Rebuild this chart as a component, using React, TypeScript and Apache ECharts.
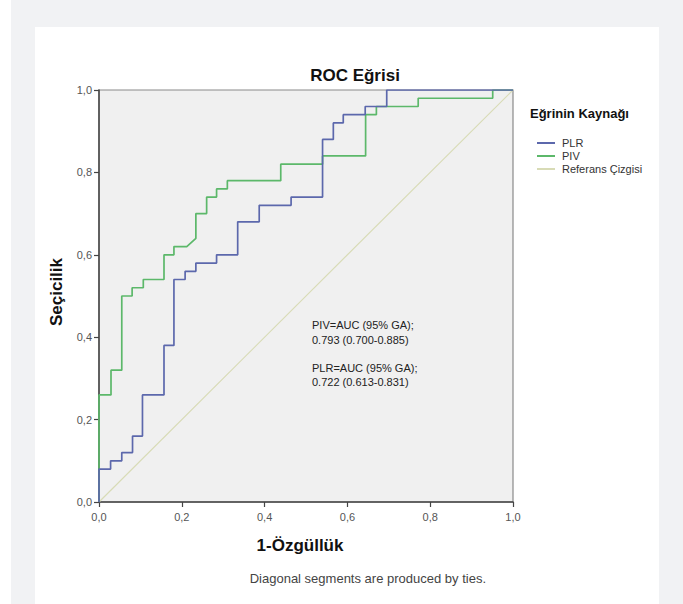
import React, { useEffect, useRef } from "react";
import * as echarts from "echarts";

// ROC step paths (1 - specificity, sensitivity)
const plrFpr = [0, 0, 0.028, 0.028, 0.055, 0.055, 0.081, 0.081, 0.105, 0.105, 0.157, 0.157, 0.181, 0.181, 0.208, 0.208, 0.234, 0.234, 0.284, 0.284, 0.335, 0.335, 0.387, 0.387, 0.464, 0.464, 0.54, 0.54, 0.566, 0.566, 0.59, 0.59, 0.643, 0.643, 0.695, 0.695, 1];
const plrTpr = [0, 0.08, 0.08, 0.1, 0.1, 0.12, 0.12, 0.16, 0.16, 0.26, 0.26, 0.38, 0.38, 0.54, 0.54, 0.56, 0.56, 0.58, 0.58, 0.6, 0.6, 0.68, 0.68, 0.72, 0.72, 0.74, 0.74, 0.88, 0.88, 0.92, 0.92, 0.94, 0.94, 0.96, 0.96, 1, 1];

const pivFpr = [0, 0, 0.029, 0.029, 0.055, 0.055, 0.08, 0.08, 0.107, 0.107, 0.157, 0.157, 0.181, 0.181, 0.212, 0.234, 0.234, 0.26, 0.26, 0.284, 0.284, 0.31, 0.31, 0.439, 0.439, 0.54, 0.54, 0.644, 0.644, 0.67, 0.67, 0.771, 0.771, 0.951, 0.951, 1];
const pivTpr = [0, 0.26, 0.26, 0.32, 0.32, 0.5, 0.5, 0.52, 0.52, 0.54, 0.54, 0.6, 0.6, 0.62, 0.62, 0.64, 0.7, 0.7, 0.74, 0.74, 0.76, 0.76, 0.78, 0.78, 0.82, 0.82, 0.84, 0.84, 0.94, 0.94, 0.96, 0.96, 0.98, 0.98, 1, 1];

const refX = [0, 1];
const refY = [0, 1];

const seriesNames = ["PLR", "PIV", "Referans Çizgisi"];
const annotationLines = [
  "PIV=AUC (95% GA);",
  "0.793 (0.700-0.885)",
  "PLR=AUC (95% GA);",
  "0.722 (0.613-0.831)",
];

const FONT = "'Liberation Sans', Arial, Helvetica, sans-serif";
const pair = (xs: number[], ys: number[]) => xs.map((x, i) => [x, ys[i]]);
const fmt = (v: number) => v.toFixed(1).replace(".", ",");

export default function App() {
  const ref = useRef<HTMLDivElement>(null);
  useEffect(() => {
    if (!ref.current) return;
    const chart = echarts.init(ref.current, null, { renderer: "svg" });
    chart.setOption({
      animation: false,
      backgroundColor: "#f1f2f4",
      graphic: [
        { type: "rect", z: -10, shape: { x: 0, y: 0, width: 11, height: 604 }, style: { fill: "#ffffff" } },
        { type: "rect", z: -10, shape: { x: 35, y: 27, width: 624, height: 577 }, style: { fill: "#ffffff" } },
        {
          type: "text", x: 355, y: 75,
          style: { text: "ROC Eğrisi", font: `bold 17px ${FONT}`, fill: "#111", align: "center", verticalAlign: "middle" },
        },
        {
          type: "text", x: 56, y: 292, rotation: Math.PI / 2,
          style: { text: "Seçicilik", font: `bold 17px ${FONT}`, fill: "#111", align: "center", verticalAlign: "middle" },
        },
        {
          type: "text", x: 300, y: 545,
          style: { text: "1-Özgüllük", font: `bold 17px ${FONT}`, fill: "#111", align: "center", verticalAlign: "middle" },
        },
        {
          type: "text", x: 486, y: 578,
          style: { text: "Diagonal segments are produced by ties.", font: `13px ${FONT}`, fill: "#444", align: "right", verticalAlign: "middle" },
        },
        {
          type: "text", x: 530, y: 113,
          style: { text: "Eğrinin Kaynağı", font: `bold 13px ${FONT}`, fill: "#111", align: "left", verticalAlign: "middle" },
        },
        ...annotationLines.map((t, i) => ({
          type: "text", x: 312, y: [325, 340, 368, 382][i],
          style: { text: t, font: `11px ${FONT}`, fill: "#222", align: "left", verticalAlign: "middle" },
        })),
      ],
      legend: {
        orient: "vertical",
        left: 532,
        top: 132,
        itemWidth: 18,
        itemHeight: 2,
        itemGap: 1,
        icon: "rect",
        data: seriesNames,
        textStyle: { fontFamily: FONT, fontSize: 11, color: "#333", lineHeight: 12, padding: [0, 0, 0, 2] },
      },
      grid: {
        left: 99, top: 90, width: 414, height: 412,
        show: true, backgroundColor: "#f0f0f0", borderColor: "#8a8a8a", borderWidth: 1.2,
      },
      xAxis: {
        type: "value", min: 0, max: 1, interval: 0.2,
        axisLine: { show: true, onZero: false, lineStyle: { color: "#444", width: 1.5 } },
        axisTick: { show: true, length: 5, lineStyle: { color: "#444", width: 1.2 } },
        axisLabel: { formatter: fmt, margin: 9, color: "#555", fontSize: 11, fontFamily: FONT },
        splitLine: { show: false },
      },
      yAxis: {
        type: "value", min: 0, max: 1, interval: 0.2,
        axisLine: { show: true, onZero: false, lineStyle: { color: "#444", width: 1.5 } },
        axisTick: { show: true, length: 5, lineStyle: { color: "#444", width: 1.2 } },
        axisLabel: { formatter: fmt, margin: 7, color: "#555", fontSize: 11, fontFamily: FONT },
        splitLine: { show: false },
      },
      series: [
        {
          name: seriesNames[0], type: "line", data: pair(plrFpr, plrTpr), showSymbol: false, symbol: "none",
          lineStyle: { color: "#5c68ac", width: 1.7 }, itemStyle: { color: "#5c68ac" }, z: 4,
        },
        {
          name: seriesNames[1], type: "line", data: pair(pivFpr, pivTpr), showSymbol: false, symbol: "none",
          lineStyle: { color: "#5cb86a", width: 1.7 }, itemStyle: { color: "#5cb86a" }, z: 3,
        },
        {
          name: seriesNames[2], type: "line", data: pair(refX, refY), showSymbol: false, symbol: "none",
          lineStyle: { color: "#d8dbb6", width: 1.2 }, itemStyle: { color: "#d8dbb6" }, z: 2,
        },
      ],
    });
    return () => chart.dispose();
  }, []);
  return <div ref={ref} style={{ position: "fixed", left: 0, top: 0, width: 683, height: 604 }} />;
}
